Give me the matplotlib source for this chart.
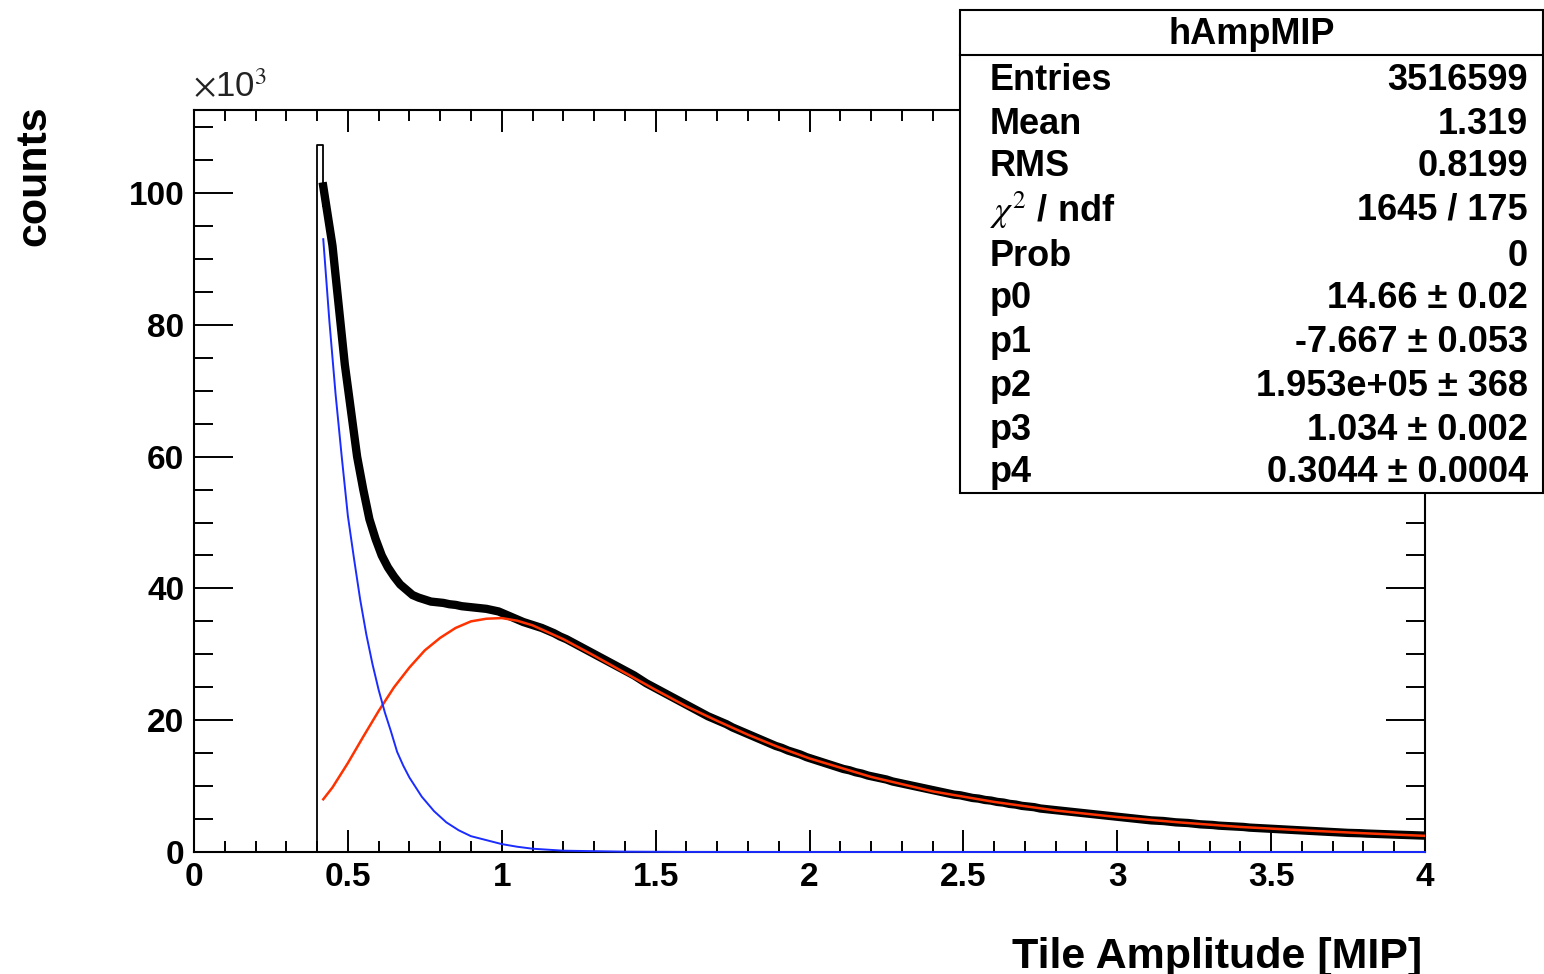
import numpy as np
import matplotlib.pyplot as plt
from matplotlib.patches import Rectangle
from matplotlib.ticker import MultipleLocator
from matplotlib.lines import Line2D

plt.rcParams['font.family'] = ['Liberation Sans', 'DejaVu Sans']
plt.rcParams['mathtext.fontset'] = 'stix'

# histogram hAmpMIP, counts in units of 10^3, bins of 0.02 starting at 0.42
first_bin_k = 107.3   # bin 0.40 - 0.42
counts_k = [
    98, 92, 83, 74, 67, 60, 55, 50.5, 47.5, 45,
    43.2, 41.8, 40.6, 39.8, 39.0, 38.6, 38.3, 38.0, 37.9, 37.8,
    37.6, 37.5, 37.3, 37.2, 37.1, 37.0, 36.9, 36.7, 36.5, 36.1,
    35.7, 35.3, 34.9, 34.6, 34.3, 34.0, 33.6, 33.2, 32.7, 32.3,
    31.8, 31.3, 30.8, 30.3, 29.8, 29.3, 28.8, 28.3, 27.8, 27.3,
    26.8, 26.2, 25.6, 25.1, 24.6, 24.1, 23.6, 23.1, 22.6, 22.1,
    21.6, 21.1, 20.6, 20.2, 19.8, 19.4, 18.9, 18.5, 18.1, 17.7,
    17.3, 16.9, 16.5, 16.1, 15.8, 15.4, 15.1, 14.8, 14.4, 14.1,
    13.8, 13.5, 13.2, 12.9, 12.6, 12.4, 12.1, 11.9, 11.6, 11.4,
    11.2, 11.0, 10.7, 10.5, 10.3, 10.1, 9.9, 9.7, 9.5, 9.3,
    9.1, 8.9, 8.7, 8.6, 8.4, 8.2, 8.1, 7.9, 7.8, 7.6,
    7.5, 7.3, 7.2, 7.0, 6.9, 6.8, 6.6, 6.5, 6.4, 6.3,
    6.2, 6.1, 6.0, 5.9, 5.8, 5.7, 5.6, 5.5, 5.4, 5.3,
    5.2, 5.1, 5.0, 4.9, 4.8, 4.75, 4.7, 4.6, 4.5, 4.45,
    4.4, 4.3, 4.2, 4.15, 4.1, 4.0, 3.95, 3.9, 3.85, 3.8,
    3.7, 3.65, 3.6, 3.55, 3.5, 3.45, 3.4, 3.35, 3.3, 3.25,
    3.2, 3.15, 3.1, 3.05, 3.0, 2.95, 2.9, 2.88, 2.85, 2.8,
    2.77, 2.73, 2.7, 2.66, 2.63, 2.6, 2.57, 2.53, 2.5,
]

# total fit (red)
fit_x = [0.42, 0.45, 0.50, 0.55, 0.60, 0.65, 0.70, 0.75, 0.80, 0.85,
         0.90, 0.95, 1.00, 1.05, 1.10, 1.20, 1.30, 1.40, 1.50, 1.60,
         1.70, 1.80, 1.90, 2.00, 2.20, 2.40, 2.60, 2.80, 3.00, 3.20,
         3.40, 3.60, 3.80, 4.00]
fit_k = [8.0, 9.8, 13.5, 17.5, 21.4, 25.0, 28.0, 30.6, 32.5, 34.0,
         35.0, 35.4, 35.5, 35.1, 34.4, 32.3, 29.8, 27.2, 24.6, 22.1,
         19.9, 17.8, 15.9, 14.2, 11.4, 9.2, 7.6, 6.3, 5.3, 4.5,
         3.8, 3.3, 2.85, 2.45]

# exponential noise component (blue)
exp_x = [0.42, 0.44, 0.46, 0.48, 0.50, 0.52, 0.54, 0.56, 0.58, 0.60,
         0.62, 0.64, 0.66, 0.68, 0.70, 0.74, 0.78, 0.82, 0.86, 0.90,
         0.95, 1.00, 1.05, 1.10, 1.20, 1.40, 1.60, 2.0, 2.5, 3.0, 3.5, 4.0]
exp_k = [93, 80.5, 69.5, 60, 51, 44.5, 38.3, 33, 28.5, 24.6,
         21.2, 18.3, 15.2, 13.1, 11.3, 8.4, 6.2, 4.5, 3.3, 2.4,
         1.8, 1.2, 0.8, 0.5, 0.2, 0.05, 0.01, 0, 0, 0, 0, 0]

stat_labels = ['Entries', 'Mean', 'RMS', r'$\chi^{2}$ / ndf', 'Prob',
               'p0', 'p1', 'p2', 'p3', 'p4']
stat_values = ['3516599', '1.319', '0.8199', '1645 / 175', '0',
               '14.66 ± 0.02', '-7.667 ± 0.053', '1.953e+05 ± 368',
               '1.034 ± 0.002', '0.3044 ± 0.0004']

W, H = 1544, 974
fig = plt.figure(figsize=(W / 100, H / 100), dpi=100)
ax = fig.add_axes([194 / W, 1 - 852 / H, (1425 - 194) / W, (852 - 110) / H])

edges = 0.42 + 0.02 * np.arange(len(counts_k) + 1)
centres = 0.5 * (edges[:-1] + edges[1:])

# thin outline of first bin, leading into the data
ax.plot([0.40, 0.40, 0.42, 0.42], [0, first_bin_k, first_bin_k, counts_k[0]],
        color='black', lw=1.3, zorder=2)
# thick data line
ax.plot(np.concatenate([[0.42], centres]), [counts_k[0] + 3] + counts_k,
        color='black', lw=6, solid_joinstyle='miter', zorder=3)
ax.plot(fit_x, fit_k, color='#ff3300', lw=1.8, zorder=4)
ax.plot(exp_x, exp_k, color='#1a2cff', lw=1.4, zorder=5, clip_on=False)

ax.set_xlim(0, 4)
ax.set_ylim(0, 112.6)

ax.xaxis.set_major_locator(MultipleLocator(0.5))
ax.xaxis.set_minor_locator(MultipleLocator(0.1))
ax.yaxis.set_major_locator(MultipleLocator(20))
ax.yaxis.set_minor_locator(MultipleLocator(5))
ax.xaxis.set_major_formatter(lambda v, p: '%g' % v)

ax.tick_params(axis='x', which='both', direction='in', top=True, width=1.4,
               labelsize=24, pad=7)
ax.tick_params(axis='x', which='major', length=16)
ax.tick_params(axis='x', which='minor', length=8)
ax.tick_params(axis='y', which='both', direction='in', right=True, width=1.4,
               labelsize=24, pad=7)
ax.tick_params(axis='y', which='major', length=28)
ax.tick_params(axis='y', which='minor', length=14)
for lab in ax.get_xticklabels() + ax.get_yticklabels():
    lab.set_fontweight('bold')
for s in ax.spines.values():
    s.set_linewidth(1.5)

fig.text(193 / W, 1 - 104 / H, r'$\times$10$^{3}$', fontsize=25, color='#222222',
         ha='left', va='bottom')
fig.text(1422 / W, 1 - 968 / H, 'Tile Amplitude [MIP]', fontsize=31,
         fontweight='bold', ha='right', va='baseline')
fig.text(54 / W, 1 - 105 / H, 'counts', fontsize=31, fontweight='bold',
         rotation=90, ha='right', va='top')

# stats box
box_l, box_r = 960 / W, 1543 / W
box_t, box_b = 1 - 10 / H, 1 - 493 / H
fig.patches.append(Rectangle((box_l, box_b), box_r - box_l, box_t - box_b,
                             transform=fig.transFigure, facecolor='white',
                             edgecolor='black', lw=1.5, zorder=10))
fig.lines.append(Line2D([box_l, box_r], [1 - 55 / H] * 2, color='black',
                        lw=1.5, transform=fig.transFigure, zorder=11))
fig.text((box_l + box_r) / 2, 1 - 34 / H, 'hAmpMIP', fontsize=26,
         fontweight='bold', ha='center', va='center', zorder=12)
row_y = [80, 125, 167, 210, 256, 298, 343, 386, 431, 473]
for lab, val, y in zip(stat_labels, stat_values, row_y):
    fig.text(990 / W, 1 - y / H, lab, fontsize=26, fontweight='bold',
             ha='left', va='center', zorder=12)
    fig.text(1528 / W, 1 - y / H, val, fontsize=26, fontweight='bold',
             ha='right', va='center', zorder=12)

fig.savefig('out.png', dpi=100)
